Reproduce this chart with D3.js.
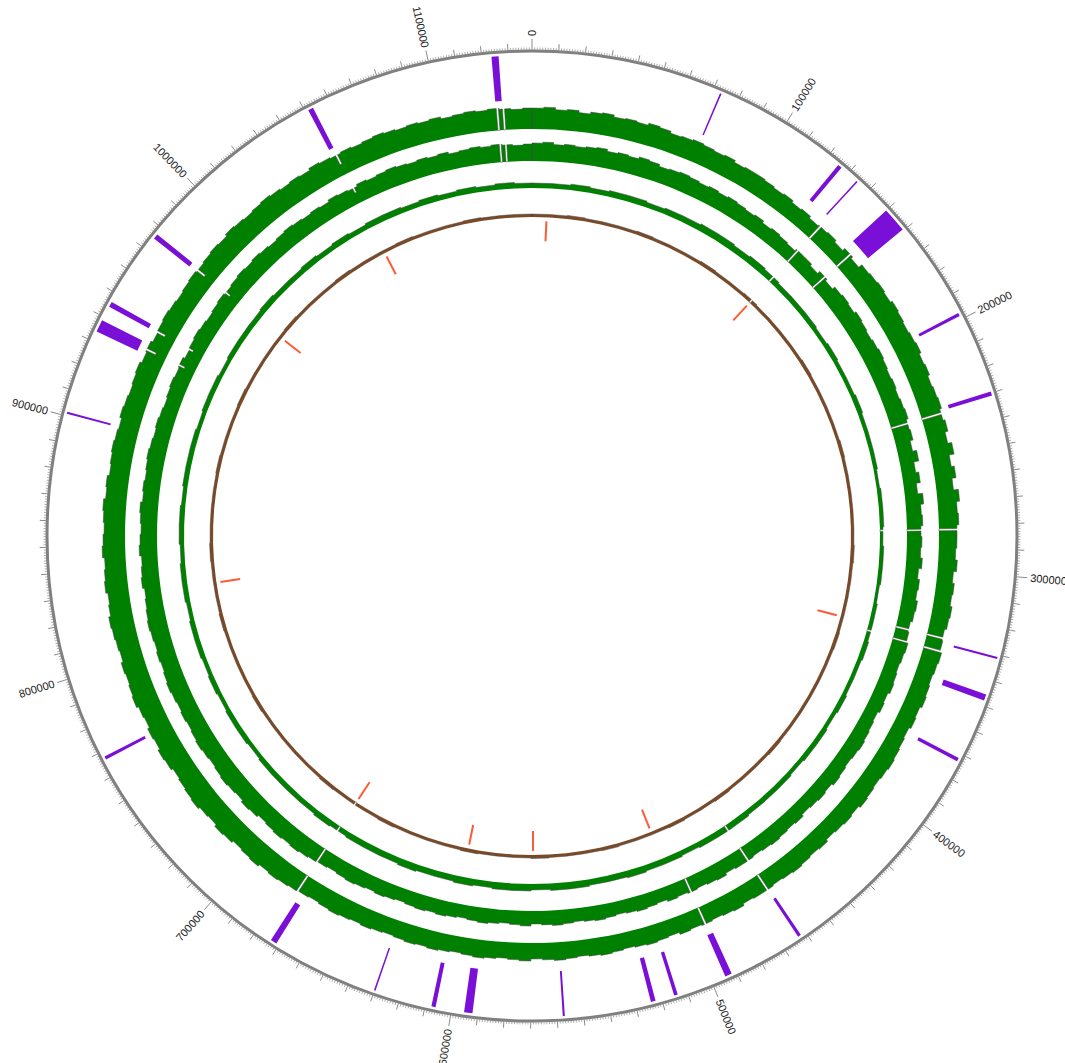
<!DOCTYPE html>
<html>
<head>
<meta charset="utf-8">
<script src="https://cdn.jsdelivr.net/npm/d3@7"></script>
<style>
  body { margin: 0; background: #fff; }
  text { font-family: "Liberation Sans", Arial, sans-serif; font-size: 11px; fill: #222; }
</style>
</head>
<body>
<svg id="chart" width="1065" height="1063"></svg>
<script>
/**
 * DATA
 **/
const genomeLength = 1139000;
const majorTicks = d3.range(0, 1100001, 100000);

// purple features (start, end in bp)
const featureStarts = [72800, 125100, 134200, 150000, 197400, 229400, 330800, 345600, 371700,
  462000, 491900, 513700, 522400, 557100, 592000, 606100, 629600, 671100, 766700,
  900800, 933850, 944300, 975100, 1051300, 1123700];
const featureEnds = [73400, 126700, 134800, 159500, 198600, 231000, 331600, 348000, 373100,
  463200, 494500, 515100, 524200, 557900, 595200, 607700, 630200, 673500, 767900,
  901600, 938550, 946300, 977100, 1053300, 1126400];

// small red marks inside the innermost ring
const rnaPositions = [8300, 136100, 330900, 500200, 568900, 605900, 675200, 827700, 975500, 1052000];

// histogram tracks (5 kb bins for the two outer, 10 kb bins for the two inner)
const bin12 = 5000, bin34 = 10000;
const track1 = [
  21,22,20,21,19,21,22,20,21,20,22,21,19,20,21,20,19,20,18,19,
  19,18,17,18,16,17,15,16,
  17,15,18,16,
  20,21,22,21,23,22,21,22,23,21,22,20,21,22,20,
  22,19,23,18,21,17,22,19,20,18,
  18,17,19,16,18,17,19,18,16,17,
  19,18,17,18,19,17,18,16,17,18,19,18,17,18,19,17,18,17,16,18,17,18,19,18,17,18,
  18,17,19,18,17,18,
  17,18,16,17,18,17,16,17,18,17,16,17,18,17,16,18,17,16,17,18,17,16,17,18,17,18,17,16,17,18,17,18,19,18,17,18,
  19,20,21,20,22,21,20,22,23,21,22,24,23,22,21,23,24,22,23,21,22,24,23,22,23,21,22,23,24,22,21,23,22,21,23,22,21,22,23,21,22,20,21,22,21,20,22,21,20,21,22,20,
  21,19,20,21,20,19,20,21,20,
  21,22,21,23,22,21,22,23,22,21,22,21,23,22,21,
  22,21,22,23,22,21,22,21,22,20,21,22,21,22,21,20,21,22
];
const track2 = [
  18,19,17,18,17,18,19,17,18,17,19,18,16,17,18,17,16,17,16,17,
  16,15,16,14,15,14,13,15,
  15,13,16,14,
  17,18,17,19,18,17,18,19,18,17,18,17,18,19,17,
  18,15,19,14,17,13,18,15,16,14,
  15,14,16,13,15,14,16,15,13,14,
  16,15,14,15,16,14,15,13,14,15,16,15,14,15,16,14,15,14,13,15,14,15,16,15,14,15,
  15,14,16,15,14,15,
  14,15,13,14,15,14,13,14,15,14,13,14,15,14,13,15,14,13,14,15,14,13,14,15,14,15,14,13,14,15,14,15,16,15,14,15,
  16,17,18,17,18,17,16,18,19,17,18,19,18,17,18,19,18,17,18,17,18,19,18,17,18,17,18,19,18,17,16,18,17,16,18,17,16,17,18,16,17,16,17,18,17,16,17,16,15,16,17,16,
  17,15,16,17,16,15,16,17,16,
  17,18,17,18,17,16,17,18,17,16,17,16,18,17,16,
  18,17,18,19,18,17,18,17,18,16,17,18,17,18,17,16,17,18
];
const track3 = [
  5,5,6,5,6,6,5,6,6,7,
  7,6,7,6,5,
  5,5,4,5,4,4,5,4,4,4,3,4,4,3,
  4,4,3,4,4,5,4,4,5,4,5,5,4,5,5,5,6,
  6,6,5,6,6,7,6,6,7,7,6,7,7,6,7,6,6,7,6,6,6,5,6,5,5,
  5,5,4,5,5,4,5,4,5,5,4,5,5,4,5,5,4,5,5,5,4,5,5,4,5,
  5,5,6,5,5,6,5,6,5,6,6,5,6,5,6,5,6,5
];
const track4 = [
  3,3,3.5,3,3,3,3.5,3,3,3,3.5,3,3,3.5,3,3,3,3,3.5,3,
  3,3,3,3.5,3,3,3,3,3,3.5,3,3,3,3,3.5,3,3,3,3,3,
  3,3.5,3,3,3,3.5,3,3,3.5,3,3,3,3.5,3,3,3,3.5,3,3,3,
  3.5,3,3,3,3,3.5,3,3,3,3.5,3,3,3,3,3,3.5,3,3,3,3,
  3.5,3,3,3,3.5,3,3,3,3,3.5,3,3,3,3.5,3,3,3,3,3.5,3,
  3,3,3.5,3,3,3,3.5,3,3,3,3.5,3,3,3
];

// [position, value] where the histogram tracks drop (value 0 = full gap)
const dipsOuter = [[136000, 0], [153500, 0], [232000, 0], [282000, 0], [329000, 0], [334700, 0],
  [463000, 0], [493300, 0], [675300, 0], [936000, 11], [944700, 11], [976000, 11],
  [1053000, 11], [1124300, 0], [1126900, 0]];
const dipsInner = [[136000, 0], [282000, 0], [334400, 0], [463000, 0], [675300, 0]];
const dipsBrown = [[136000, 0], [675300, 0]];

/**
 * LAYOUT
 **/
const cx = 532, cy = 536,
  ringRadius = 485,
  featureInner = 436, featureOuter = 481,
  labelRadius = 500,
  dipWidth = 900;

const tracks = [
  { values: track1, bin: bin12, dips: dipsOuter, r0: 407, fill: "#008000" },
  { values: track2, bin: bin12, dips: dipsOuter, r0: 375, fill: "#008000" },
  { values: track3, bin: bin34, dips: dipsInner, r0: 348, fill: "#008000" },
  { values: track4, bin: bin34, dips: dipsBrown, r0: 319, fill: "#7a4a28" }
];

const angle = d3.scaleLinear().domain([0, genomeLength]).range([0, 2 * Math.PI]);

const svg = d3.select("#chart");
const g = svg.append("g").attr("transform", `translate(${cx},${cy})`);

const px = (pos, r) => r * Math.sin(angle(pos));
const py = (pos, r) => -r * Math.cos(angle(pos));

// split bins where dips fall
function buildPoints(values, size, dips) {
  const pts = [[0, 0]];
  values.forEach((v, i) => {
    const s = i * size, e = Math.min((i + 1) * size, genomeLength);
    if (s >= e) return;
    const cuts = [s, e];
    dips.forEach(([dp]) => {
      [dp - dipWidth / 2, dp + dipWidth / 2].forEach(c => { if (c > s && c < e) cuts.push(c); });
    });
    cuts.sort((a, b) => a - b);
    for (let k = 0; k < cuts.length - 1; k++) {
      const a = cuts[k], b = cuts[k + 1], m = (a + b) / 2;
      const hit = dips.find(([dp]) => Math.abs(m - dp) < dipWidth / 2);
      const val = hit ? Math.min(hit[1], v) : v;
      pts.push([a, val], [b, val]);
    }
  });
  pts.push([genomeLength, 0]);
  return pts;
}

// HISTOGRAM TRACKS
tracks.forEach(t => {
  const pts = buildPoints(t.values, t.bin, t.dips);
  const r = d3.scaleLinear().domain([0, 1]).range([t.r0, t.r0 + 1]);
  const area = d3.areaRadial()
    .angle(d => angle(d[0]))
    .innerRadius(t.r0)
    .outerRadius(d => r(d[1]));
  const line = d3.lineRadial()
    .angle(d => angle(d[0]))
    .radius(d => r(d[1]));
  g.append("path").attr("d", area(pts)).attr("fill", t.fill);
  g.append("path").attr("d", line(pts))
    .attr("fill", "none").attr("stroke", "#444").attr("stroke-width", 0.5);
});

// FEATURES
const arc = d3.arc().innerRadius(featureInner).outerRadius(featureOuter);
g.selectAll("path.feature")
  .data(featureStarts.map((s, i) => ({ s, e: featureEnds[i] })))
  .join("path")
  .attr("class", "feature")
  .attr("fill", "#7a10d8")
  .attr("d", d => arc({ startAngle: angle(d.s), endAngle: angle(d.e) }));

// RNA MARKS
g.selectAll("line.rna")
  .data(rnaPositions)
  .join("line")
  .attr("class", "rna")
  .attr("x1", d => px(d, 295)).attr("y1", d => py(d, 295))
  .attr("x2", d => px(d, 315)).attr("y2", d => py(d, 315))
  .attr("stroke", "#ff5a36").attr("stroke-width", 2);

// RING AND TICKS
g.append("circle").attr("r", ringRadius)
  .attr("fill", "none").attr("stroke", "#7f7f7f").attr("stroke-width", 3);

const ticks = d3.range(0, genomeLength, 1000).map(p => ({
  p, len: p % 100000 === 0 ? 12 : p % 10000 === 0 ? 7.5 : 3.5
}));
g.selectAll("line.tick")
  .data(ticks)
  .join("line")
  .attr("class", "tick")
  .attr("x1", d => px(d.p, ringRadius)).attr("y1", d => py(d.p, ringRadius))
  .attr("x2", d => px(d.p, ringRadius + d.len)).attr("y2", d => py(d.p, ringRadius + d.len))
  .attr("stroke", "#8a8a8a").attr("stroke-width", d => d.len > 4 ? 1 : 0.7);

g.selectAll("text.label")
  .data(majorTicks)
  .join("text")
  .attr("class", "label")
  .attr("dy", "0.35em")
  .attr("text-anchor", d => angle(d) < Math.PI ? "start" : "end")
  .attr("transform", d => {
    const deg = angle(d) * 180 / Math.PI;
    const rot = angle(d) < Math.PI ? deg - 90 : deg + 90;
    return `translate(${px(d, labelRadius)},${py(d, labelRadius)}) rotate(${rot})`;
  })
  .text(d => d);
</script>
</body>
</html>
